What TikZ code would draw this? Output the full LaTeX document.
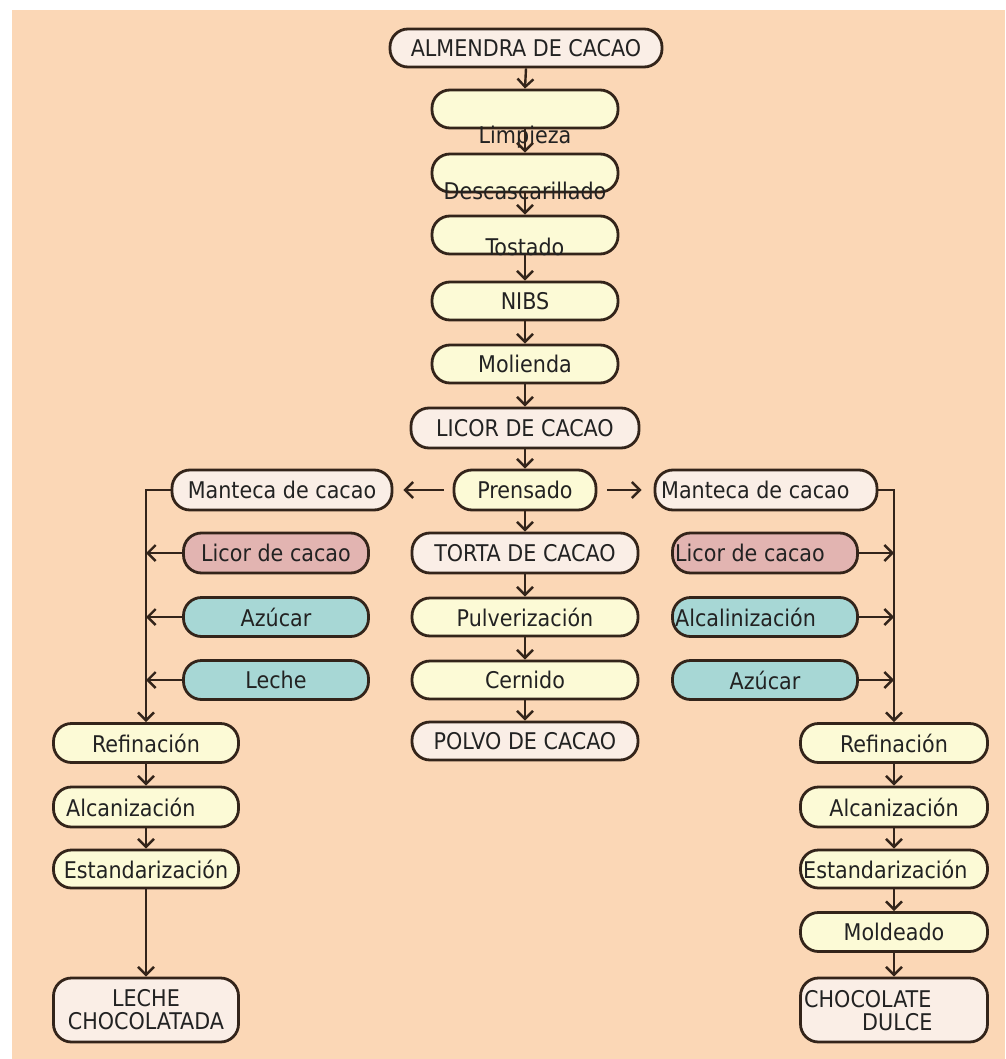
\documentclass[tikz,border=0pt]{standalone}
\usepackage{fontspec}
\setmainfont{DejaVu Sans Condensed}
\usetikzlibrary{arrows.meta}
\definecolor{bgc}{HTML}{FBD7B6}
\definecolor{linec}{HTML}{33241A}
\definecolor{txtc}{HTML}{222222}
\definecolor{yelc}{HTML}{FCFAD6}
\definecolor{whtc}{HTML}{FAEEE6}
\definecolor{pinkc}{HTML}{E2B4B1}
\definecolor{bluec}{HTML}{A7D7D5}
\tikzset{
  box/.style={draw=linec, line width=2.8pt, rounded corners=18pt, inner sep=0pt,
    minimum height=38pt, text=txtc, font=\fontsize{23}{23}\selectfont},
  yel/.style={box, fill=yelc},
  wht/.style={box, fill=whtc},
  pnk/.style={box, fill=pinkc},
  blu/.style={box, fill=bluec},
  txt/.style={inner sep=0pt, text=txtc, font=\fontsize{23}{23}\selectfont},
  arr/.style={draw=linec, line width=2.4pt, -{Straight Barb[length=8pt,width=16pt,line width=2.4pt]}},
}
\begin{document}
\begin{tikzpicture}[x=1pt,y=-1pt]
\useasboundingbox (0,0) rectangle (1005,1059);
\fill[white] (0,0) rectangle (1005,1059);
\fill[bgc] (12,10) rectangle (1005,1059);
% central column
\node[wht, minimum width=272pt] (alm) at (526,48) {ALMENDRA DE CACAO};
\node[yel, minimum width=186pt] (lim) at (525,109) {};
\node[yel, minimum width=186pt] (desc) at (525,173) {};
\node[yel, minimum width=186pt] (tost) at (525,235) {};
\node[yel, minimum width=186pt] (nibs) at (525,301) {NIBS};
\node[yel, minimum width=186pt] (mol) at (525,364) {Molienda};
\node[wht, minimum width=228pt, minimum height=40pt] (licor) at (525,428) {LICOR DE CACAO};
\node[yel, minimum width=142pt, minimum height=40pt] (pren) at (525,490) {Prensado};
\node[wht, minimum width=226pt, minimum height=40pt] (torta) at (525,553) {TORTA DE CACAO};
\node[yel, minimum width=226pt] (pulv) at (525,617) {Pulverización};
\node[yel, minimum width=226pt] (cern) at (525,680) {Cernido};
\node[wht, minimum width=226pt] (polvo) at (525,741) {POLVO DE CACAO};
% offset texts of the upper boxes
\node[txt] (limt) at (525,137) {Limpieza};
\node[txt] (desct) at (525,191) {Descascarillado};
\node[txt] (tostt) at (525,247) {Tostado};
% left branch
\node[wht, minimum width=220pt, minimum height=40pt] (mantL) at (282,490) {Manteca de cacao};
\node[pnk, minimum width=185pt, minimum height=40pt] (licL) at (276,553) {Licor de cacao};
\node[blu, minimum width=185pt, minimum height=39pt] (azuL) at (276,617) {Azúcar};
\node[blu, minimum width=185pt, minimum height=39pt] (lecL) at (276,680) {Leche};
\node[yel, minimum width=185pt, minimum height=39pt] (refL) at (146,743) {Refinación};
\node[yel, minimum width=185pt, minimum height=40pt] (alcL) at (146,807) {};
\node[txt, anchor=west] (alcLt) at (66,807) {Alcanización};
\node[yel, minimum width=185pt, minimum height=38pt] (estL) at (146,869) {Estandarización};
\node[wht, minimum width=185pt, minimum height=64pt, align=center] (leche) at (146,1010) {LECHE\\CHOCOLATADA};
% right branch
\node[wht, minimum width=222pt, minimum height=40pt] (mantR) at (766,490) {};
\node[txt, anchor=west] (mantRt) at (661,490) {Manteca de cacao};
\node[pnk, minimum width=185pt, minimum height=40pt] (licR) at (765,553) {};
\node[txt, anchor=west] (licRt) at (675,553) {Licor de cacao};
\node[blu, minimum width=185pt, minimum height=39pt] (alkR) at (765,617) {};
\node[txt, anchor=west] (alkRt) at (675,617) {Alcalinización};
\node[blu, minimum width=185pt, minimum height=39pt] (azuR) at (765,680) {Azúcar};
\node[yel, minimum width=187pt, minimum height=39pt] (refR) at (894,743) {Refinación};
\node[yel, minimum width=187pt, minimum height=40pt] (alcR) at (894,807) {Alcanización};
\node[yel, minimum width=187pt, minimum height=38pt] (estR) at (894,869) {};
\node[txt, anchor=west] (estRt) at (803,869) {Estandarización};
\node[yel, minimum width=187pt, minimum height=39pt] (mold) at (894,932) {Moldeado};
\node[wht, minimum width=187pt, minimum height=64pt] (choc) at (894,1010) {};
\node[txt, anchor=west, align=left] (chocT) at (804,1011) {CHOCOLATE\\\hspace*{58pt}DULCE};
% central arrows
\draw[arr] (alm.south) -- (lim.north);
\draw[arr] (lim.south) -- (desc.north);
\draw[arr] (desc.south) -- (tost.north);
\draw[arr] (tost.south) -- (nibs.north);
\draw[arr] (nibs.south) -- (mol.north);
\draw[arr] (mol.south) -- (licor.north);
\draw[arr] (licor.south) -- (pren.north);
\draw[arr] (pren.south) -- (torta.north);
\draw[arr] (torta.south) -- (pulv.north);
\draw[arr] (pulv.south) -- (cern.north);
\draw[arr] (cern.south) -- (polvo.north);
\draw[arr, shorten <=9pt, shorten >=10pt] (pren.west) -- (mantL.east);
\draw[arr, shorten <=10pt, shorten >=12pt] (pren.east) -- (mantR.west);
% left branch lines
\draw[arr] (mantL.west) -| (refL.north);
\draw[arr] (licL.west) -- (licL.west -| refL.north);
\draw[arr] (azuL.west) -- (azuL.west -| refL.north);
\draw[arr] (lecL.west) -- (lecL.west -| refL.north);
\draw[arr] (refL.south) -- (alcL.north);
\draw[arr] (alcL.south) -- (estL.north);
\draw[arr] (estL.south) -- (leche.north);
% right branch lines
\draw[arr] (mantR.east) -| (refR.north);
\draw[arr] (licR.east) -- (licR.east -| refR.north);
\draw[arr] (alkR.east) -- (alkR.east -| refR.north);
\draw[arr] (azuR.east) -- (azuR.east -| refR.north);
\draw[arr] (refR.south) -- (alcR.north);
\draw[arr] (alcR.south) -- (estR.north);
\draw[arr] (estR.south) -- (mold.north);
\draw[arr] (mold.south) -- (choc.north);
\end{tikzpicture}
\end{document}
